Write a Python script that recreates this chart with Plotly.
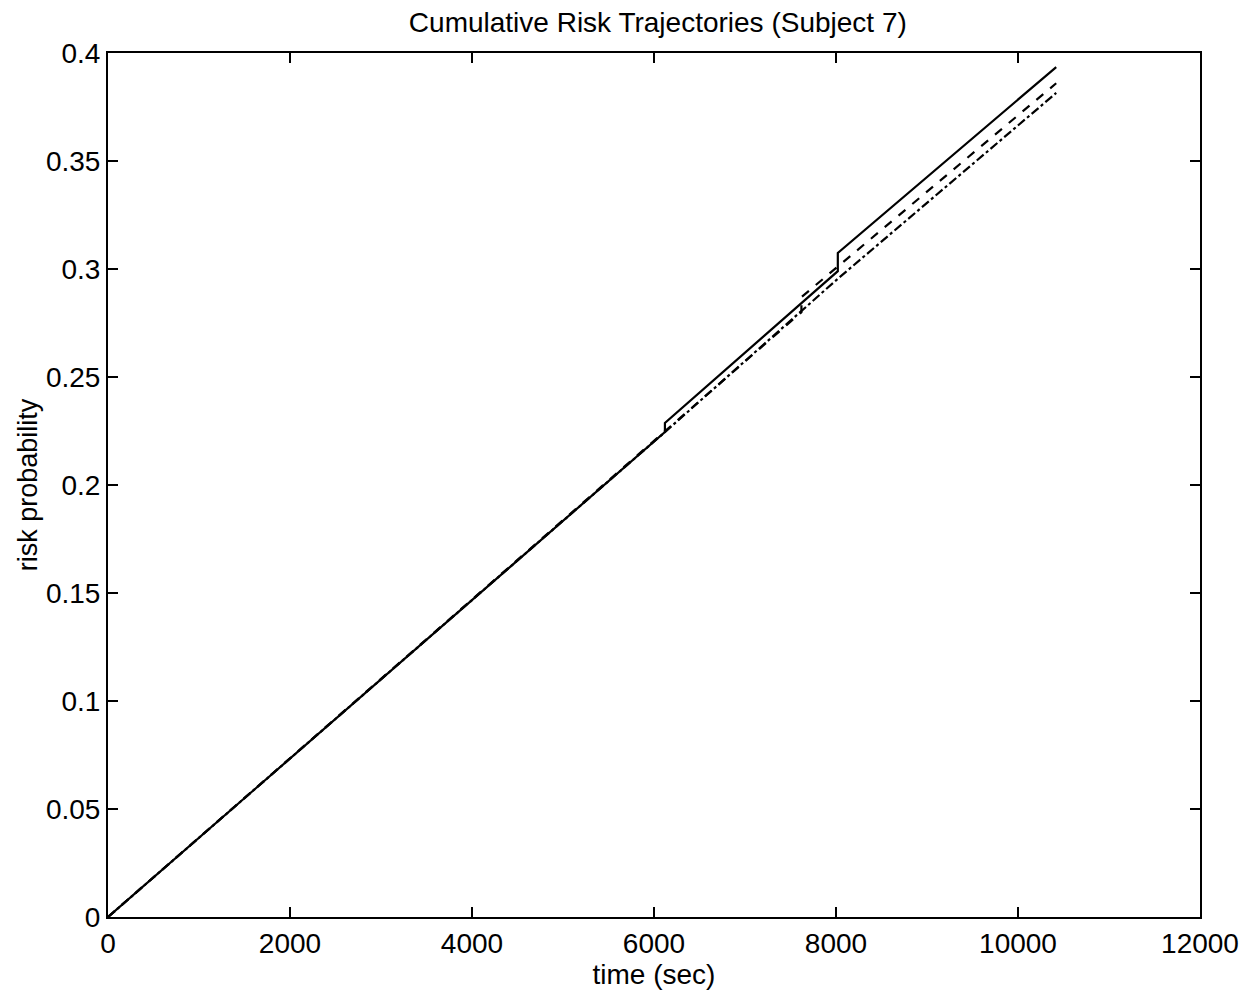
import plotly.graph_objects as go

# Data
time_solid = [0, 6120, 6120, 8020, 8020, 10420]
risk_solid = [0, 0.2245, 0.2287, 0.2990, 0.3074, 0.3935]

time_dashed = [0, 7620, 7620, 10420]
risk_dashed = [0, 0.2800, 0.2870, 0.3860]

time_dashdot = [0, 6120, 8020, 10420]
risk_dashdot = [0, 0.2245, 0.2955, 0.3815]

x_ticks = [0, 2000, 4000, 6000, 8000, 10000, 12000]
y_ticks = [0, 0.05, 0.1, 0.15, 0.2, 0.25, 0.3, 0.35, 0.4]
y_labels = ["0", "0.05", "0.1", "0.15", "0.2", "0.25", "0.3", "0.35", "0.4"]

FONT = "Liberation Sans, Arial, Helvetica, sans-serif"

fig = go.Figure()
fig.add_trace(go.Scatter(x=time_dashdot, y=risk_dashdot, mode="lines",
                         line=dict(color="black", width=2.2, dash="dashdot")))
fig.add_trace(go.Scatter(x=time_dashed, y=risk_dashed, mode="lines",
                         line=dict(color="black", width=2.2, dash="dash")))
fig.add_trace(go.Scatter(x=time_solid, y=risk_solid, mode="lines",
                         line=dict(color="black", width=2.2)))

axis_common = dict(showgrid=False, zeroline=False, showline=True, linecolor="black",
                   linewidth=2, mirror="ticks", ticks="inside", ticklen=10,
                   tickwidth=1.5, tickcolor="black",
                   tickfont=dict(family=FONT, size=28, color="black"))

fig.update_layout(
    width=1253, height=996,
    margin=dict(l=108, r=53, t=53, b=79),
    paper_bgcolor="white", plot_bgcolor="white",
    showlegend=False,
    title=dict(text="Cumulative Risk Trajectories (Subject 7)", x=0.525, xanchor="center",
               y=0.978, yanchor="middle",
               font=dict(family=FONT, size=28, color="black")),
    xaxis=dict(range=[0, 12000], tickvals=x_ticks, ticktext=[str(v) for v in x_ticks],
               title=dict(text="time (sec)", font=dict(family=FONT, size=28, color="black"),
                          standoff=0),
               **axis_common),
    yaxis=dict(range=[0, 0.4], tickvals=y_ticks, ticktext=y_labels,
               title=dict(text="risk probability", font=dict(family=FONT, size=27, color="black"),
                          standoff=0),
               **axis_common),
)

fig.write_html("out.html")
